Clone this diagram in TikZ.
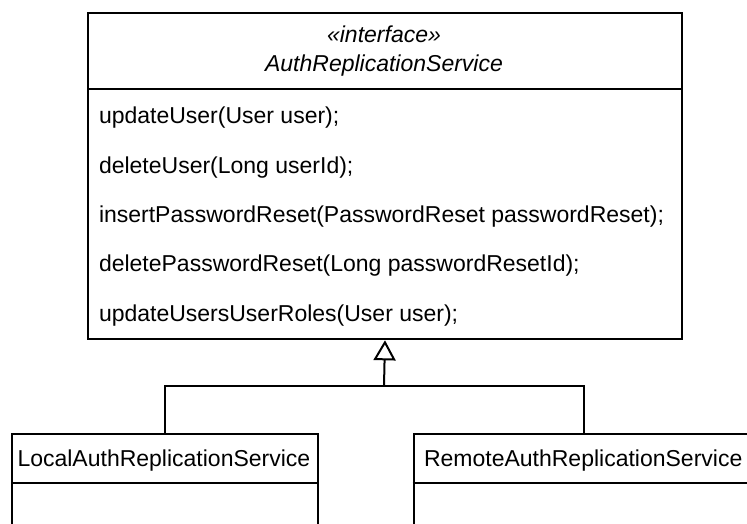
\documentclass[tikz,border=0pt]{standalone}
\usepackage{fontspec}
\setmainfont{Liberation Sans}
\usetikzlibrary{arrows.meta}

\begin{document}
\begin{tikzpicture}[x=1pt, y=-1pt, line width=2pt,
  umlbox/.style={draw, rectangle, inner sep=0pt, line width=2pt, anchor=north west},
  txt/.style={inner sep=0pt, font=\fontsize{23}{27}\selectfont},
  member/.style={txt, anchor=base west},
  classname/.style={txt, anchor=base},
  realizes/.style={-{Triangle[open, length=20pt, width=22pt]}}
]
\clip (0,0) rectangle (747,524);

% interface box with header and method compartments
\node[umlbox, minimum width=593.4pt, minimum height=326.3pt] (iface) at (87.3,12) {};
\draw ([yshift=-77pt]iface.north west) -- ([yshift=-77pt]iface.north east);
\node[classname, font=\fontsize{23}{27}\selectfont\itshape] (stereo) at (384,43) {«interface»};
\node[classname, font=\fontsize{23}{27}\selectfont\itshape] (ifname) at (384,71.7) {AuthReplicationService};

\node[member] (m1) at (98,124)   {updateUser(User user);};
\node[member] (m2) at (98,173.3) {deleteUser(Long userId);};
\node[member] (m3) at (98,222.6) {insertPasswordReset(PasswordReset passwordReset);};
\node[member] (m4) at (98,271.9) {deletePasswordReset(Long passwordResetId);};
\node[member] (m5) at (98,321.2) {updateUsersUserRoles(User user);};

% implementing classes
\node[umlbox, minimum width=305.7pt, minimum height=150pt] (local) at (11,433.3) {};
\draw ([yshift=-50pt]local.north west) -- ([yshift=-50pt]local.north east);
\node[classname] (localname) at (163.9,466.7) {LocalAuthReplicationService};

\node[umlbox, minimum width=341pt, minimum height=150pt] (remote) at (412.7,433.3) {};
\draw ([yshift=-50pt]remote.north west) -- ([yshift=-50pt]remote.north east);
\node[classname] (remotename) at (583.2,466.7) {RemoteAuthReplicationService};

% realization connectors
\coordinate (join) at (384,385.7);
\draw (local.north) |- (join) -| (remote.north);
\draw[realizes] (join) -- (iface.south);
\end{tikzpicture}
\end{document}
